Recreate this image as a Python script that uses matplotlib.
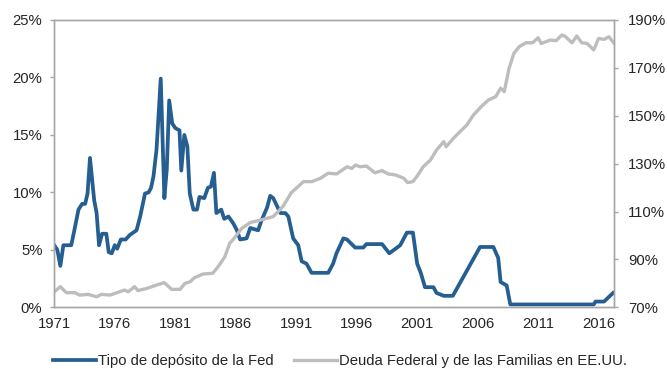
import matplotlib
matplotlib.use("Agg")
import matplotlib.pyplot as plt
from matplotlib.ticker import FuncFormatter

plt.rcParams['font.family'] = ['Liberation Sans', 'DejaVu Sans']

# Fed deposit rate (%), left axis
fed_years = [1971.0, 1971.25, 1971.5, 1971.75, 1972.4, 1972.6, 1973.0, 1973.3, 1973.55,
             1973.75, 1973.95, 1974.3, 1974.5, 1974.7, 1974.95, 1975.3, 1975.5, 1975.75,
             1976.0, 1976.2, 1976.5, 1976.9, 1977.25, 1977.8, 1978.1, 1978.5, 1978.8,
             1979.0, 1979.2, 1979.45, 1979.8, 1980.1, 1980.3, 1980.5, 1980.75, 1981.0,
             1981.35, 1981.5, 1981.75, 1982.0, 1982.2, 1982.5, 1982.8, 1983.0, 1983.4,
             1983.7, 1983.95, 1984.2, 1984.4, 1984.8, 1985.05, 1985.4, 1985.8, 1986.1,
             1986.36, 1986.9, 1987.2, 1987.85, 1988.15, 1988.6, 1988.85, 1989.1, 1989.7,
             1990.1, 1990.35, 1990.75, 1991.17, 1991.45, 1991.85, 1992.27, 1993.65,
             1994.05, 1994.33, 1994.9, 1995.2, 1995.87, 1996.55, 1996.8, 1998.1, 1998.7,
             1999.6, 2000.15, 2000.65, 2001.0, 2001.3, 2001.65, 2002.35, 2002.6, 2003.2,
             2003.95, 2006.2, 2007.3, 2007.7, 2007.9, 2008.4, 2008.7, 2015.6, 2015.75,
             2016.45, 2017.2]
fed_rate = [5.4, 5.0, 3.6, 5.4, 5.4, 6.4, 8.5, 9.0, 9.0,
            9.9, 13.0, 9.3, 8.2, 5.4, 6.4, 6.4, 4.8, 4.7,
            5.4, 5.1, 5.9, 5.9, 6.3, 6.7, 7.9, 9.9, 10.0,
            10.4, 11.4, 13.7, 19.9, 9.5, 12.0, 18.0, 16.0, 15.6,
            15.4, 11.9, 15.0, 14.0, 9.9, 8.5, 8.5, 9.6, 9.5,
            10.4, 10.5, 11.7, 8.2, 8.5, 7.7, 7.9, 7.3, 6.7,
            5.9, 6.0, 6.9, 6.7, 7.6, 8.7, 9.7, 9.5, 8.2,
            8.2, 7.9, 6.0, 5.4, 4.0, 3.8, 3.0, 3.0,
            3.8, 4.7, 6.0, 5.9, 5.2, 5.2, 5.5, 5.5, 4.7,
            5.4, 6.5, 6.5, 3.8, 3.0, 1.75, 1.75, 1.25, 1.0,
            1.0, 5.25, 5.25, 4.3, 2.2, 1.9, 0.25, 0.25, 0.5,
            0.5, 1.25]

# US federal and household debt (% of GDP), right axis
debt_years = [1971.0, 1971.5, 1972.0, 1972.7, 1973.1, 1973.8, 1974.5, 1974.9, 1975.6,
              1976.4, 1976.8, 1977.1, 1977.65, 1977.9, 1978.6, 1979.45, 1980.1, 1980.7,
              1981.4, 1981.8, 1982.2, 1982.6, 1983.3, 1984.1, 1984.55, 1985.1, 1985.5,
              1985.8, 1986.5, 1987.2, 1988.1, 1989.1, 1989.9, 1990.6, 1991.0, 1991.6,
              1992.3, 1993.0, 1993.65, 1994.35, 1995.2, 1995.6, 1995.9, 1996.3, 1996.8,
              1997.5, 1998.1, 1998.6, 1999.2, 1999.9, 2000.2, 2000.65, 2001.0, 2001.5,
              2002.1, 2002.6, 2003.2, 2003.4, 2004.0, 2004.55, 2005.1, 2005.65, 2006.35,
              2006.9, 2007.5, 2007.9, 2008.2, 2008.6, 2009.0, 2009.45, 2010.0, 2010.55,
              2011.0, 2011.25, 2012.0, 2012.5, 2012.95, 2013.2, 2013.8, 2014.2, 2014.6,
              2015.05, 2015.6, 2016.0, 2016.45, 2016.85, 2017.25]
debt_ratio = [76.5, 78.6, 76.1, 76.1, 75.1, 75.4, 74.4, 75.4, 75.1,
              76.5, 77.2, 76.5, 78.6, 77.0, 77.8, 79.3, 80.3, 77.5,
              77.5, 80.0, 80.6, 82.4, 83.9, 84.2, 87.0, 91.1, 96.7,
              98.4, 103.0, 105.4, 106.5, 107.9, 112.1, 117.9, 119.7, 122.5,
              122.5, 123.9, 126.0, 125.7, 128.7, 128.0, 129.4, 128.7, 129.0,
              126.2, 127.1, 125.7, 125.3, 123.9, 122.1, 122.5, 124.8, 128.7,
              131.5, 135.7, 139.2, 137.1, 140.6, 143.4, 146.1, 150.3, 154.1,
              156.6, 158.0, 161.5, 160.1, 169.8, 176.1, 178.9, 180.5, 180.5,
              182.6, 180.2, 181.6, 181.4, 183.7, 183.3, 180.5, 183.3, 180.5,
              180.2, 177.5, 182.3, 181.9, 183.0, 180.5]

tick_years = [1971, 1976, 1981, 1986, 1991, 1996, 2001, 2006, 2011, 2016]
left_ticks = [0, 5, 10, 15, 20, 25]
right_ticks = [70, 90, 110, 130, 150, 170, 190]

blue = '#255E91'
gray = '#BDBDBD'
spine_col = '#A6A6A6'
text_col = '#262626'
fs = 10.7

fig = plt.figure(figsize=(6.67, 3.69), dpi=100)
ax = fig.add_axes([0.0814, 0.1672, 0.8396, 0.7786])
ax2 = ax.twinx()

l1, = ax.plot(fed_years, fed_rate, color=blue, lw=2.7, solid_joinstyle='round',
              label='Tipo de depósito de la Fed')
l2, = ax2.plot(debt_years, debt_ratio, color=gray, lw=2.4, solid_joinstyle='round',
               label='Deuda Federal y de las Familias en EE.UU.')

ax.set_xlim(1971.0, 2017.3)
ax.set_ylim(0, 25)
ax2.set_ylim(70, 190)

ax.set_xticks(tick_years)
ax.set_xticklabels([str(y) for y in tick_years])
ax.set_yticks(left_ticks)
ax.yaxis.set_major_formatter(FuncFormatter(lambda v, p: f'{v:.0f}%'))
ax2.set_yticks(right_ticks)
ax2.yaxis.set_major_formatter(FuncFormatter(lambda v, p: f'{v:.0f}%'))

for a in (ax, ax2):
    for s in a.spines.values():
        s.set_color(spine_col)
        s.set_linewidth(1.0)

ax.tick_params(axis='x', length=0, pad=7, labelsize=fs, colors=text_col)
ax.tick_params(axis='y', length=3, width=1.0, color=spine_col, pad=5.5,
               labelsize=fs, labelcolor=text_col)
ax2.tick_params(axis='y', length=3, width=1.0, color=spine_col, pad=7,
                labelsize=fs, labelcolor=text_col)

fig.legend(handles=[l1, l2], loc='center', bbox_to_anchor=(0.51, 0.022),
           ncol=2, frameon=False, fontsize=fs, handlelength=2.9,
           handletextpad=0.1, columnspacing=1.4, labelcolor=text_col)

fig.savefig('out.png', dpi=100)
